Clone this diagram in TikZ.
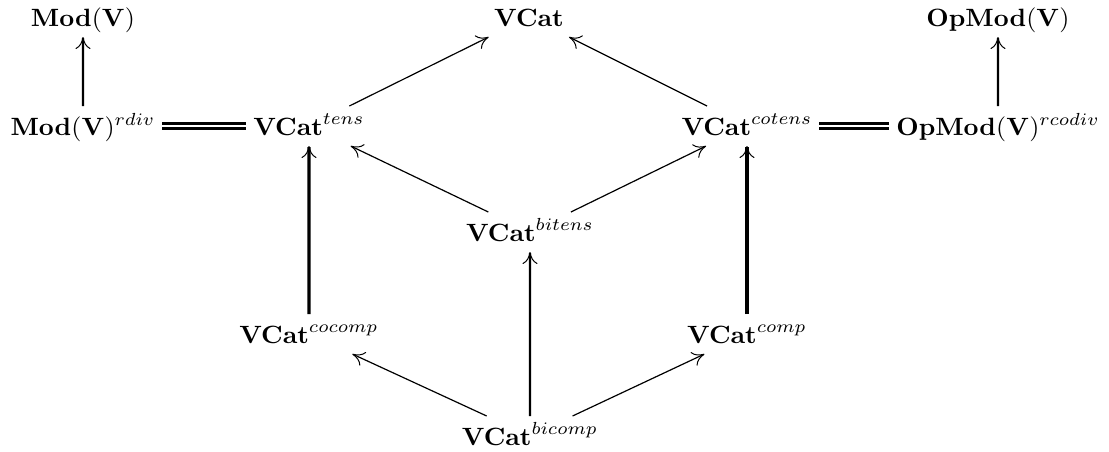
\documentclass[tikz,border=0pt]{standalone}
\usepackage{amsmath}
\usetikzlibrary{arrows.meta}

\tikzset{
	obj/.style={anchor=base, scale=1.25, xscale=1.04, inner xsep=2.5pt, inner ysep=2.4pt, text height=9pt, text depth=1.8pt},
	pfeil/.style={-{To[length=6pt,width=7.5pt,line width=0.5pt]}, line width=0.6pt},
	pfeilm/.style={pfeil, line width=1.05pt},
	pfeilf/.style={pfeil, line width=1.55pt},
	gleich/.style={double, line width=1.2pt, double distance=1.35pt}
}

\begin{document}
\begin{tikzpicture}[x=0.5pt, y=-0.5pt]
	\useasboundingbox (0,0) rectangle (1109,451);
	% obere Zeile
	\node[obj] (modv) at (83,26) {$\mathbf{Mod}(\mathbf{V})$};
	\node[obj] (vcat) at (529,26) {$\mathbf{VCat}$};
	\node[obj] (opmodv) at (998,26) {$\mathbf{OpMod}(\mathbf{V})$};
	% zweite Zeile
	\node[obj] (moddiv) at (83,135) {$\mathbf{Mod}(\mathbf{V})^{rdiv}$};
	\node[obj] (tens) at (309,135) {$\mathbf{VCat}^{tens}$};
	\node[obj] (cotens) at (747,135) {$\mathbf{VCat}^{cotens}$};
	\node[obj] (opmodcodiv) at (998,135) {$\mathbf{OpMod}(\mathbf{V})^{rcodiv}$};
	% Mitte und unten
	\node[obj] (bitens) at (530,241) {$\mathbf{VCat}^{bitens}$};
	\node[obj] (cocomp) at (309,343) {$\mathbf{VCat}^{cocomp}$};
	\node[obj] (comp) at (747,343) {$\mathbf{VCat}^{comp}$};
	\node[obj] (bicomp) at (530,445) {$\mathbf{VCat}^{bicomp}$};
	% Pfeile nach oben
	\draw[pfeilm] (moddiv) -- (modv);
	\draw[pfeilm] (opmodcodiv) -- (opmodv);
	\draw[pfeil] (tens) -- (vcat);
	\draw[pfeil] (cotens) -- (vcat);
	% Gleichheiten
	\draw[gleich] (moddiv) -- (tens);
	\draw[gleich] (cotens) -- (opmodcodiv);
	% Mitte
	\draw[pfeil] (bitens) -- (tens);
	\draw[pfeil] (bitens) -- (cotens);
	\draw[pfeilf] (cocomp) -- (tens);
	\draw[pfeilf] (comp) -- (cotens);
	% unten
	\draw[pfeilm] (bicomp) -- (bitens);
	\draw[pfeil] (bicomp) -- (cocomp);
	\draw[pfeil] (bicomp) -- (comp);
\end{tikzpicture}
\end{document}
